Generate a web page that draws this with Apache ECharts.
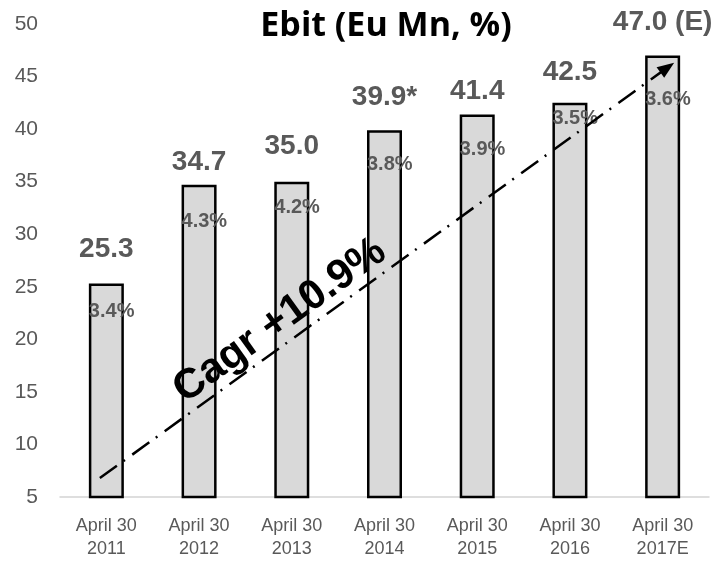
<!DOCTYPE html>
<html>
<head>
<meta charset="utf-8">
<title>Ebit (Eu Mn, %)</title>
<script src="https://cdn.jsdelivr.net/npm/echarts@6/dist/echarts.min.js"></script>
<style>
  html, body { margin: 0; padding: 0; background: #ffffff; }
  #chart { width: 721px; height: 561px; }
</style>
</head>
<body>
<div id="chart"></div>
<script>
// Fiscal years (closing April 30)
const periodPrefix = 'April 30';
const years = ['2011', '2012', '2013', '2014', '2015', '2016', '2017E'];
// Ebit in Eu Mn and the footnote / estimate markers printed after it
const ebit = [25.3, 34.7, 35.0, 39.9, 41.4, 42.5, 47.0];
const ebitSuffix = ['', '', '', '*', '', '', ' (E)'];
// Ebit margin, %
const ebitMargin = [3.4, 4.3, 4.2, 3.8, 3.9, 3.5, 3.6];
// Value axis range
const yMin = 5, yMax = 50, yStep = 5;
// Growth arrow, in (category index, Eu Mn) space, and its caption
const cagrArrow = [[-0.07, 6.8], [6.05, 45.85]];
const cagrText = 'Cagr +10.9%';

// Label placement (pixels): gap above each bar, drop of the margin text inside each bar
const valueLabelGap = [20, 9, 21, 19, 9, 17, 19];
const marginLabelDrop = [28, 37, 26, 34, 35, 16, 44];

const GREY_TEXT = '#595959';
const FONT = '"Liberation Sans", Arial, sans-serif';

const chart = echarts.init(document.getElementById('chart'), null, { renderer: 'canvas' });

const barData = ebit.map((v, i) => ({
  value: v,
  label: { distance: valueLabelGap[i] }
}));

// Margin labels ride on a transparent copy of the bars so each can sit inside its bar
const marginData = ebit.map((v, i) => ({
  value: v,
  label: { position: [0, marginLabelDrop[i]] }
}));

chart.setOption({
  animation: false,
  grid: { left: 60, right: 12, top: 24, bottom: 60, containLabel: false },
  xAxis: [
    {
      type: 'category',
      data: years,
      axisLine: { show: true, lineStyle: { color: '#d4d4d4', width: 1.5 } },
      axisTick: { show: false },
      axisLabel: {
        color: GREY_TEXT,
        fontFamily: FONT,
        fontSize: 18,
        lineHeight: 23,
        margin: 18,
        formatter: (y) => periodPrefix + '\n' + y
      }
    },
    { type: 'value', min: -0.5, max: 6.5, show: false }
  ],
  yAxis: {
    type: 'value',
    min: yMin,
    max: yMax,
    interval: yStep,
    axisLine: { show: false },
    axisTick: { show: false },
    splitLine: { show: false },
    axisLabel: { color: GREY_TEXT, fontFamily: FONT, fontSize: 21, margin: 22 }
  },
  series: [
    {
      name: 'Ebit',
      type: 'bar',
      data: barData,
      barWidth: 35,
      itemStyle: { color: '#d9d9d9', borderColor: '#000000', borderWidth: 2.5 },
      label: {
        show: true,
        position: 'top',
        color: GREY_TEXT,
        fontFamily: FONT,
        fontWeight: 'bold',
        fontSize: 28,
        formatter: (p) => ebit[p.dataIndex].toFixed(1) + ebitSuffix[p.dataIndex]
      },
      z: 2
    },
    {
      name: 'Margin',
      type: 'bar',
      data: marginData,
      barWidth: 35,
      barGap: '-100%',
      itemStyle: { color: 'rgba(0,0,0,0)' },
      label: {
        show: true,
        align: 'left',
        verticalAlign: 'middle',
        color: GREY_TEXT,
        fontFamily: FONT,
        fontWeight: 'bold',
        fontSize: 20,
        formatter: (p) => ebitMargin[p.dataIndex].toFixed(1) + '%'
      },
      silent: true,
      z: 3
    },
    {
      name: 'Cagr',
      type: 'line',
      xAxisIndex: 1,
      yAxisIndex: 0,
      data: cagrArrow,
      symbol: 'none',
      lineStyle: { opacity: 0 },
      silent: true,
      z: 5,
      markLine: {
        silent: true,
        animation: false,
        symbol: ['none', 'triangle'],
        symbolSize: [13, 17],
        label: { show: false },
        lineStyle: { color: '#000000', width: 2.5, type: [21, 8, 2, 9] },
        data: [[{ coord: cagrArrow[0] }, { coord: cagrArrow[1] }]]
      }
    }
  ],
  graphic: [
    {
      id: 'title',
      type: 'text',
      x: 386,
      y: 26,
      style: {
        text: 'Ebit (Eu Mn, %)',
        fill: '#000000',
        font: 'bold 34px "Open Sans", sans-serif',
        textAlign: 'center',
        textVerticalAlign: 'middle'
      }
    }
  ]
});

// Caption laid along the growth arrow, a third of the way up and just above it
const p0 = chart.convertToPixel({ xAxisIndex: 1, yAxisIndex: 0 }, cagrArrow[0]);
const p1 = chart.convertToPixel({ xAxisIndex: 1, yAxisIndex: 0 }, cagrArrow[1]);
const angle = Math.atan2(p0[1] - p1[1], p1[0] - p0[0]);
const along = 0.34, lift = 22;
const cx = p0[0] + (p1[0] - p0[0]) * along - Math.sin(angle) * lift;
const cy = p0[1] + (p1[1] - p0[1]) * along - Math.cos(angle) * lift;

chart.setOption({
  graphic: [
    {
      id: 'cagr',
      type: 'text',
      x: cx,
      y: cy,
      rotation: angle,
      z: 10,
      style: {
        text: cagrText,
        fill: '#000000',
        font: 'bold 42px "Liberation Sans", Arial, sans-serif',
        textAlign: 'center',
        textVerticalAlign: 'middle'
      }
    }
  ]
});
</script>
</body>
</html>
